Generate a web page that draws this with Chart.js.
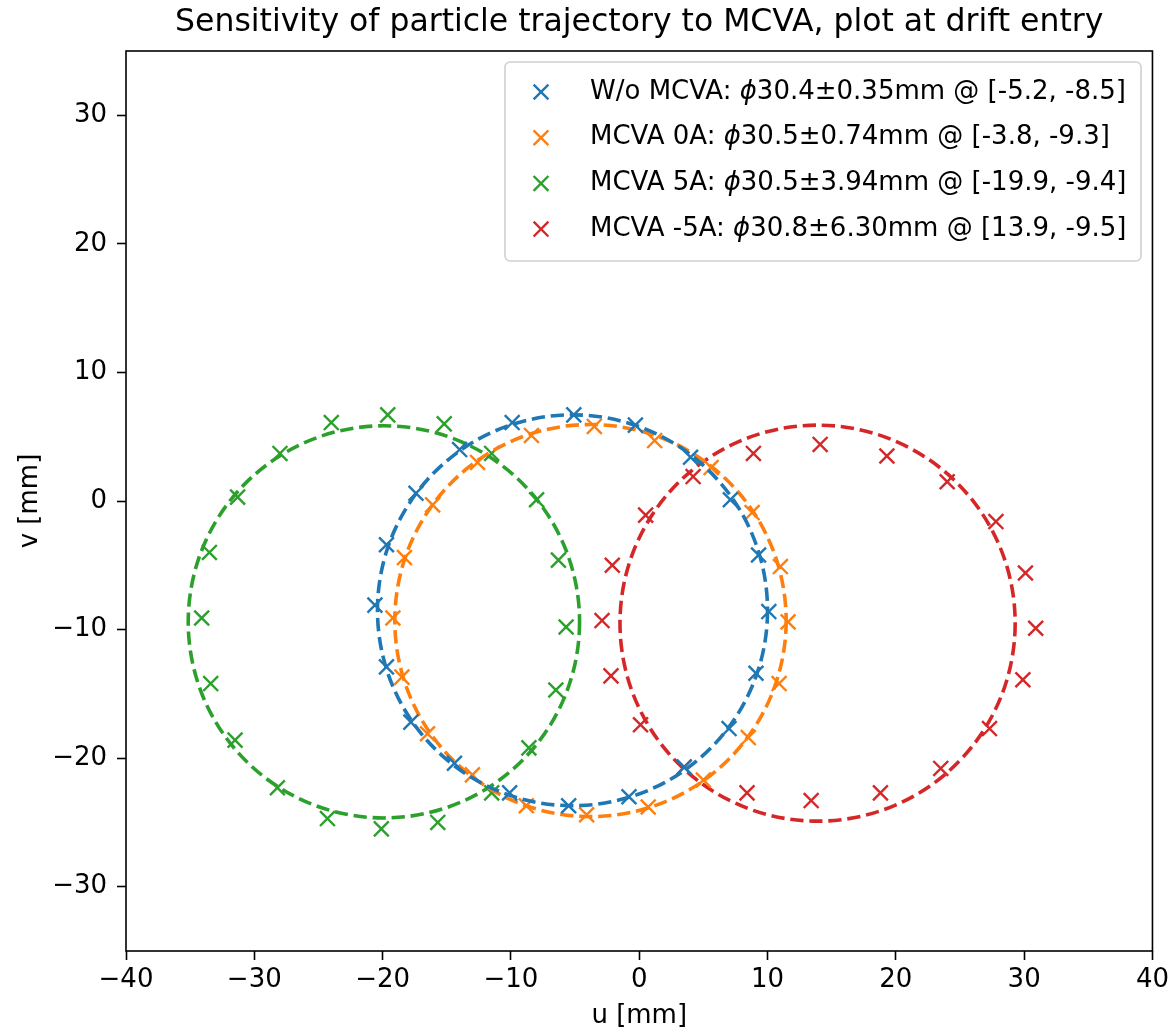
<!DOCTYPE html>
<html>
<head>
<meta charset="UTF-8">
<script src="https://cdn.jsdelivr.net/npm/chart.js@4"></script>
<style>
html, body { margin: 0; padding: 0; background: #fff; }
#wrap { width: 1174px; height: 1034px; }
</style>
</head>
<body>
<div id="wrap"><canvas id="c" width="1174" height="1034"></canvas></div>
<script>
// legend data per run
const seriesNames = ['W/o MCVA', 'MCVA 0A', 'MCVA 5A', 'MCVA -5A'];
const diameters = [30.4, 30.5, 30.5, 30.8];
const spreads = ['0.35', '0.74', '3.94', '6.30'];
const centersU = [-5.2, -3.8, -19.9, 13.9];
const centersV = [-8.5, -9.3, -9.4, -9.5];
const colors = ['#1f77b4', '#ff7f0e', '#2ca02c', '#d62728'];

// particle hits at drift entry (u, v) in mm
const noMcvaU = [-5.1, -0.3, 4.0, 7.1, 9.3, 10.1, 9.1, 7.0, 3.5, -0.8, -5.5, -10.1, -14.4, -17.8, -19.7, -20.6, -19.7, -17.4, -14.0, -9.9];
const noMcvaV = [6.7, 5.9, 3.4, 0.1, -4.2, -8.6, -13.4, -17.7, -20.7, -23.0, -23.7, -22.7, -20.4, -17.2, -12.9, -8.1, -3.4, 0.6, 4.0, 6.1];
const mcva0U = [-8.4, -3.5, 1.2, 5.6, 8.8, 11.0, 11.6, 10.9, 8.5, 5.0, 0.7, -4.1, -8.8, -13.0, -16.5, -18.5, -19.2, -18.3, -16.1, -12.6];
const mcva0V = [5.1, 5.8, 4.7, 2.6, -0.9, -5.1, -9.4, -14.2, -18.4, -21.7, -23.8, -24.4, -23.7, -21.3, -18.1, -13.7, -9.1, -4.4, -0.3, 3.0];
const mcva5U = [-19.6, -15.2, -11.5, -8.0, -6.3, -5.7, -6.5, -8.6, -11.5, -15.7, -20.1, -24.3, -28.2, -31.5, -33.4, -34.1, -33.5, -31.3, -28.0, -24.0];
const mcva5V = [6.7, 6.0, 3.7, 0.1, -4.6, -9.8, -14.7, -19.2, -22.7, -25.0, -25.5, -24.7, -22.3, -18.6, -14.2, -9.1, -4.0, 0.3, 3.7, 6.1];
const mcvaM5U = [14.1, 19.3, 24.0, 27.8, 30.1, 30.9, 29.9, 27.3, 23.5, 18.8, 13.4, 8.4, 3.5, 0.1, -2.2, -2.9, -2.1, 0.5, 4.2, 8.9];
const mcvaM5V = [4.4, 3.5, 1.5, -1.6, -5.6, -9.9, -13.9, -17.7, -20.8, -22.7, -23.3, -22.7, -20.7, -17.4, -13.6, -9.3, -5.0, -1.1, 1.9, 3.7];

const xTicks = [-40, -30, -20, -10, 0, 10, 20, 30, 40];
const yTicks = [-30, -20, -10, 0, 10, 20, 30];

const FONT = "'DejaVu Sans', sans-serif";
const FS = 26;       // 10pt
const TITLE_FS = 31.5;
const us = [noMcvaU, mcva0U, mcva5U, mcvaM5U];
const vs = [noMcvaV, mcva0V, mcva5V, mcvaM5V];

function pts(u, v) { return u.map((x, i) => ({ x: x, y: v[i] })); }
function fmtTick(v) { return v < 0 ? '\u2212' + Math.abs(v) : String(v); }

const datasets = seriesNames.map((n, i) => ({
  label: n,
  data: pts(us[i], vs[i]),
  pointStyle: 'crossRot',
  pointRadius: 10.5,
  borderWidth: 2.4,
  borderColor: colors[i],
  backgroundColor: colors[i],
  showLine: false
}));

// fitted circle, drawn right after each run's markers (matplotlib order)
const circlePlugin = {
  id: 'circles',
  afterDatasetDraw(chart, args) {
    const i = args.index;
    const { ctx, chartArea } = chart;
    const xs = chart.scales.x, ys = chart.scales.y;
    const r = diameters[i] / 2;
    const cx = xs.getPixelForValue(centersU[i]);
    const cy = ys.getPixelForValue(centersV[i]);
    const rx = xs.getPixelForValue(centersU[i] + r) - cx;
    const ry = cy - ys.getPixelForValue(centersV[i] + r);
    ctx.save();
    ctx.beginPath();
    ctx.rect(chartArea.left, chartArea.top, chartArea.right - chartArea.left, chartArea.bottom - chartArea.top);
    ctx.clip();
    ctx.strokeStyle = colors[i];
    ctx.lineWidth = 3.6;
    ctx.setLineDash([13.3, 5.8]);
    ctx.beginPath();
    ctx.ellipse(cx, cy, rx, ry, 0, 0, Math.PI * 2);
    ctx.stroke();
    ctx.restore();
  }
};

const framePlugin = {
  id: 'frame',
  afterDraw(chart) {
    const { ctx, chartArea: a } = chart;
    ctx.save();
    // axes box
    ctx.strokeStyle = '#000';
    ctx.lineWidth = 1.6;
    ctx.setLineDash([]);
    ctx.strokeRect(a.left, a.top, a.right - a.left, a.bottom - a.top);

    // title + axis labels
    ctx.fillStyle = '#000';
    ctx.textAlign = 'center';
    ctx.textBaseline = 'middle';
    ctx.font = TITLE_FS + 'px ' + FONT;
    ctx.fillText('Sensitivity of particle trajectory to MCVA, plot at drift entry', (a.left + a.right) / 2, 23);
    ctx.font = FS + 'px ' + FONT;
    ctx.fillText('u [mm]', (a.left + a.right) / 2, 1016);
    ctx.save();
    ctx.translate(30, (a.top + a.bottom) / 2);
    ctx.rotate(-Math.PI / 2);
    ctx.fillText('v [mm]', 0, 0);
    ctx.restore();

    // legend
    const lx = 505, ly = 62, lw = 636, lh = 199;
    ctx.beginPath();
    ctx.roundRect(lx, ly, lw, lh, 5);
    ctx.fillStyle = 'rgba(255,255,255,0.8)';
    ctx.fill();
    ctx.strokeStyle = '#d0d0d0';
    ctx.lineWidth = 1.6;
    ctx.stroke();
    ctx.textAlign = 'left';
    for (let i = 0; i < seriesNames.length; i++) {
      const y = 92 + i * 45.7;
      const mx = 541, m = 7.4;
      ctx.strokeStyle = colors[i];
      ctx.lineWidth = 2.4;
      ctx.beginPath();
      ctx.moveTo(mx - m, y - m); ctx.lineTo(mx + m, y + m);
      ctx.moveTo(mx - m, y + m); ctx.lineTo(mx + m, y - m);
      ctx.stroke();
      ctx.fillStyle = '#000';
      let tx = 590;
      const a1 = seriesNames[i] + ': ';
      ctx.font = FS + 'px ' + FONT;
      ctx.fillText(a1, tx, y);
      tx += ctx.measureText(a1).width;
      ctx.font = 'italic ' + FS + 'px ' + FONT;
      ctx.fillText('\u03d5', tx, y);
      tx += ctx.measureText('\u03d5').width;
      ctx.font = FS + 'px ' + FONT;
      ctx.fillText(diameters[i].toFixed(1) + '\u00b1' + spreads[i] + 'mm @ [' + centersU[i].toFixed(1) + ', ' + centersV[i].toFixed(1) + ']', tx, y);
    }
    ctx.restore();
  }
};

new Chart(document.getElementById('c'), {
  type: 'scatter',
  data: { datasets: datasets },
  options: {
    responsive: false,
    animation: false,
    devicePixelRatio: 1,
    layout: { padding: { top: 51, right: 19, left: 0, bottom: 0 } },
    plugins: { legend: { display: false }, tooltip: { enabled: false } },
    scales: {
      x: {
        type: 'linear', min: -40, max: 40,
        afterBuildTicks(s) { s.ticks = xTicks.map(v => ({ value: v })); },
        afterFit(s) { s.height = 83; },
        grid: { drawOnChartArea: false, drawTicks: true, tickLength: 9, tickWidth: 1.6, color: '#000' },
        border: { display: false },
        ticks: { color: '#000', font: { family: FONT, size: FS }, padding: 5, maxRotation: 0, callback: v => fmtTick(v) }
      },
      y: {
        type: 'linear', min: -35, max: 35,
        afterBuildTicks(s) { s.ticks = yTicks.map(v => ({ value: v })); },
        afterFit(s) { s.width = 126; },
        grid: { drawOnChartArea: false, drawTicks: true, tickLength: 9, tickWidth: 1.6, color: '#000' },
        border: { display: false },
        ticks: { color: '#000', font: { family: FONT, size: FS }, padding: 10, callback: v => fmtTick(v) }
      }
    }
  },
  plugins: [circlePlugin, framePlugin]
});
</script>
</body>
</html>
